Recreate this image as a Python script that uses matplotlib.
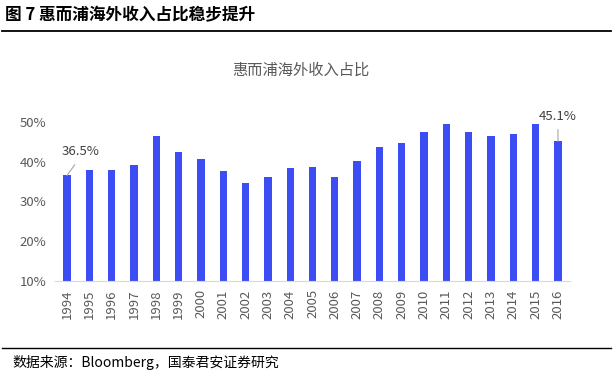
# whirlpool overseas revenue share, bar chart redo
import numpy as np
import matplotlib.pyplot as plt

plt.rcParams['font.family'] = ['Noto Sans CJK SC', 'DejaVu Sans']

years = [str(y) for y in range(1994, 2017)]
share = [36.5, 37.8, 37.9, 39.1, 46.5, 42.4, 40.7, 37.5, 34.6, 36.2, 38.4, 38.5,
         36.2, 40.1, 43.7, 44.7, 47.4, 49.3, 47.5, 46.4, 47.0, 49.3, 45.1]
yticks = [10, 20, 30, 40, 50]

grey = '#595959'
fig = plt.figure(figsize=(6.13, 3.76), dpi=100)
ax = fig.add_axes([55/613, 1 - 281/376, 515/613, 159.3/376])

x = np.arange(len(years))
ax.bar(x, share, width=0.33, color='#3B4DF3', bottom=0)
ax.set_xlim(-0.54, len(years) - 0.46)
ax.set_ylim(10, 50)
ax.set_yticks(yticks)
ax.set_yticklabels([f'{t}%' for t in yticks], color=grey, fontsize=9.5)
ax.set_xticks(x)
ax.set_xticklabels(years, rotation=90, color=grey, fontsize=9.5)
ax.tick_params(length=0, pad=6)
for s in ['top', 'right', 'left']:
    ax.spines[s].set_visible(False)
ax.spines['bottom'].set_color('#D9D9D9')

# callouts for first and last bar
ax.annotate(f'{share[0]}%', xy=(0, share[0]), xytext=(-0.22, share[0] + 5.9),
            fontsize=9.5, color='#404040', annotation_clip=False, ha='left', va='center',
            arrowprops=dict(arrowstyle='-', color='#A6A6A6', lw=0.8,
                            relpos=(0.45, 0), shrinkA=3, shrinkB=0))
ax.annotate(f'{share[-1]}%', xy=(x[-1], share[-1]), xytext=(x[-1], share[-1] + 6.3),
            fontsize=9.5, color='#404040', annotation_clip=False, ha='center', va='center',
            arrowprops=dict(arrowstyle='-', color='#A6A6A6', lw=0.8,
                            relpos=(0.5, 0), shrinkA=3, shrinkB=0))

fig.text(0.49, 1 - 70/376, '惠而浦海外收入占比', ha='center', va='center',
         fontsize=11, color=grey)
fig.text(5/613, 1 - 15/376, '图 7 惠而浦海外收入占比稳步提升', ha='left', va='center',
         fontsize=12, fontweight='bold', color='black')
fig.add_artist(plt.Line2D([2/613, 611/613], [1 - 30.5/376] * 2, color='black', lw=1.3))
fig.add_artist(plt.Line2D([2/613, 611/613], [1 - 348/376] * 2, color='black', lw=1.0))
fig.text(12/613, 1 - 363/376, '数据来源：Bloomberg，国泰君安证券研究', ha='left', va='center',
         fontsize=10, color='black')

fig.savefig('out.png', dpi=100)
